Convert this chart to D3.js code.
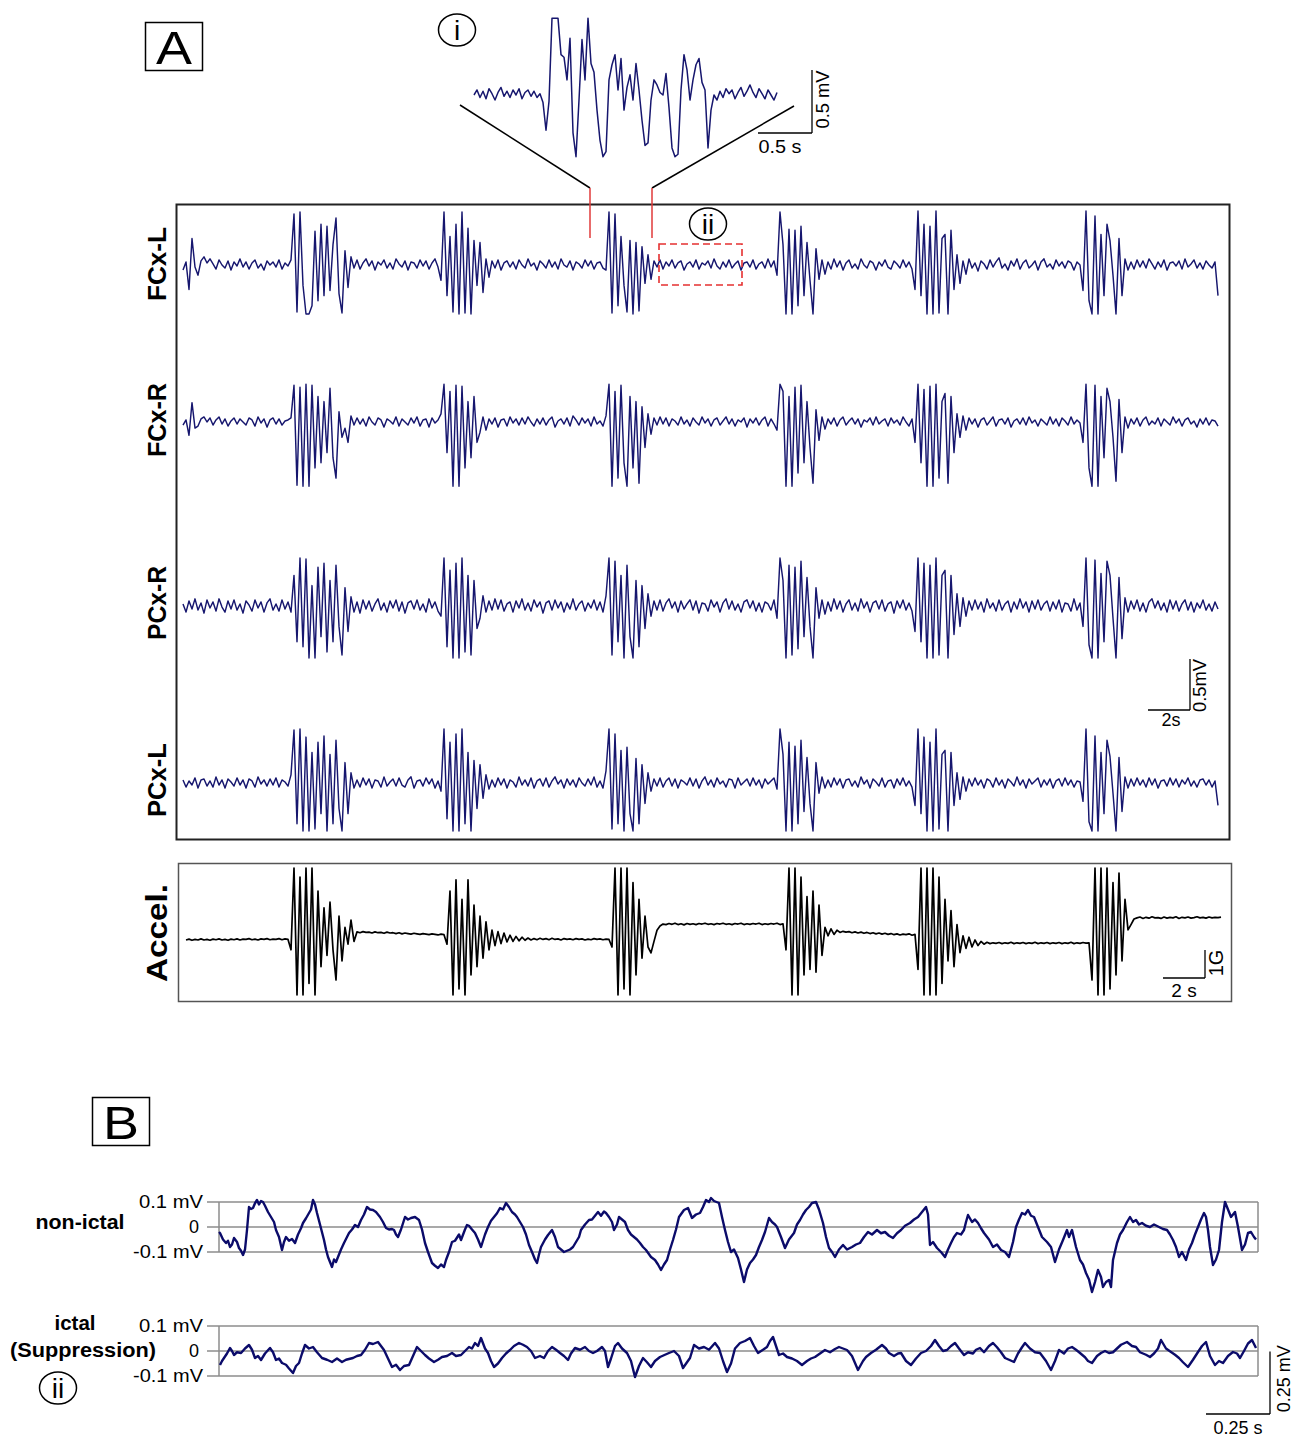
<!DOCTYPE html>
<html>
<head>
<meta charset="utf-8">
<script src="https://cdn.jsdelivr.net/npm/d3@7"></script>
<style>
  body { margin: 0; background: #fff; }
  svg { display: block; }
  text { font-family: "Liberation Sans", Arial, sans-serif; fill: #000; }
</style>
</head>
<body>
<svg id="fig" width="1293" height="1437"></svg>
<script>
// ---- data ----
// EEG channels, 7 samples/s, values in 0.01 mV
var eegRate = 7;
var fcxL = [
  -5,3,-24,26,-2,-10,4,8,2,6,   1,-4,5,0,-3,4,-5,3,-1,6,   -2,3,-4,2,5,-3,1,-5,4,0,
  3,-2,5,-4,2,-1,5,50,-46,52,   -20,-48,-48,-40,33,-35,40,-30,38,-25,   20,46,-28,-47,14,-22,8,-3,5,-4,
  2,6,-1,4,-5,3,0,5,-3,2,   -4,6,1,-2,4,-5,3,2,-3,5,   -1,4,-4,2,6,-2,-15,52,-30,28,
  -46,40,-48,52,-47,36,-48,24,-20,22,   -27,6,-12,4,-3,5,-5,2,4,-2,   3,-4,5,0,-3,6,-1,2,-5,4,
  1,-3,5,-2,3,-4,6,0,-2,4,   -5,3,1,-3,5,-1,4,-4,2,3,   -3,-5,52,-47,50,-40,28,-20,-46,24,
  -48,22,-45,18,-18,10,-14,4,-2,5,   -4,3,-1,5,-3,2,4,-5,1,3,   -2,5,-4,2,0,4,-3,6,-1,-4,
  3,-2,5,-3,1,4,-5,2,3,-2,   5,-4,1,3,-3,6,-2,4,-10,52,   20,-48,35,-48,34,-40,38,-30,22,-15,
  -48,16,-14,5,-9,3,-4,6,-2,4,   -5,2,5,-3,1,-4,6,0,-3,4,   2,-5,3,-1,5,-2,-4,4,1,-3,
  5,-2,3,-4,-24,53,-30,40,-48,38,   -48,53,-47,26,30,-48,34,-24,10,-18,   4,-9,6,-3,2,-6,4,1,-4,5,
  -2,3,7,-3,1,-5,4,-1,6,-4,   2,5,-3,0,4,-5,3,6,-2,1,   -4,5,-1,3,-3,4,2,-5,3,0,
  -25,53,-35,-48,48,-48,30,-30,40,24,   -10,-48,26,-30,6,-5,3,-4,5,-2,   4,-3,6,1,-4,3,-2,5,-5,2,
  3,-1,4,-4,6,-2,1,5,-3,2,   -4,4,0,-3,3,-30
];
var fcxR = [
  -3,2,-13,19,-6,-4,3,5,0,4,   -3,2,5,-2,3,-4,1,4,-2,3,   0,-3,4,2,-4,5,-1,3,-5,2,
  4,-2,3,-3,1,2,4,36,-62,34,   -63,37,-63,36,-45,25,-40,20,-30,33,   -35,-55,10,-15,-6,-20,6,-3,4,-2,
  3,-4,5,0,-3,4,2,-5,3,1,   -2,5,-4,3,0,-3,4,-1,5,-4,   2,3,-5,4,-1,2,8,37,-30,30,
  -63,36,-63,35,-45,20,-35,25,-20,-10,   5,-8,3,-2,4,-5,2,3,-4,5,   -1,3,-3,4,-2,5,0,-4,3,-2,
  4,-3,2,5,-5,1,3,-2,4,-4,   6,2,-3,4,-1,3,-4,5,-2,1,   -4,6,37,-63,30,-55,36,-40,-63,25,
  -45,20,-60,15,-25,8,-12,4,-3,5,   -2,4,-4,3,1,-3,5,-2,2,-4,   4,0,-3,5,-1,3,-4,2,4,-3,
  1,5,-2,3,-4,2,0,4,-5,3,   -1,4,-3,2,5,-4,3,-2,-8,37,   30,-63,25,-63,34,-50,36,-40,20,-25,
  -60,12,-18,5,-7,3,-2,4,-4,2,   5,-3,1,4,-2,3,-5,2,0,4,   -3,5,-2,1,3,-4,4,-1,2,-3,
  5,0,-4,3,-20,37,-40,32,-63,35,   -63,37,-55,20,28,-60,25,-30,8,-15,   6,-8,4,-2,3,-5,2,4,-3,1,
  5,-4,2,3,-2,4,-5,1,3,-2,   4,-3,5,-1,2,-4,3,0,-3,5,   -2,3,-4,4,1,-3,5,-2,2,-1,
  -20,37,-45,-63,36,-63,25,-35,33,20,   -15,-58,22,-30,5,-6,3,-2,4,-4,   2,5,-3,1,-2,4,-4,3,0,-3,
  5,-1,3,-4,2,4,-2,1,-5,3,   -2,4,-3,2,1,-4
];
var pcxR = [
  2,-6,5,-3,7,-4,3,-7,6,-2,   4,-5,7,-1,-6,5,-3,6,-4,2,   -7,5,1,-5,6,-2,4,-6,3,7,
  -4,2,-5,6,-3,4,-6,30,-35,47,   -40,46,-51,20,-51,38,-30,42,-45,25,   -35,40,-20,-48,18,-25,9,-6,4,-7,
  6,-3,5,-5,2,7,-4,3,-6,5,   -2,6,-5,4,-7,3,5,-3,6,-4,   2,-6,7,-2,4,-5,-10,47,-40,35,
  -51,42,-51,47,-45,30,-48,25,-22,-12,   10,-6,5,-4,7,-3,6,-5,2,4,   -6,5,-2,7,-4,3,-5,6,-1,4,
  -7,3,5,-4,6,-2,4,-6,3,-3,   7,-4,2,5,-5,3,-2,6,-4,4,   -6,10,47,-48,44,-35,30,-51,40,-30,
  -51,25,-40,20,-22,12,-10,5,-4,6,   -5,3,7,-2,4,-6,5,-3,2,6,   -4,5,-7,3,2,-5,6,-1,4,-6,
  3,7,-3,5,-4,2,-6,4,6,-2,   5,-5,3,-6,4,2,-4,6,-12,47,   25,-51,40,-48,38,-42,44,-30,28,-20,
  -51,18,-12,6,-8,4,-5,7,-3,5,   -6,2,6,-4,3,-5,7,-2,4,-6,   3,5,-3,6,-5,2,4,-7,5,-2,
  6,-4,3,-5,-25,47,-35,42,-51,40,   -51,47,-48,30,35,-51,30,-28,12,-20,   8,-10,5,-4,6,-3,4,-6,7,-2,
  3,-5,6,-4,2,5,-6,4,-3,7,   -2,4,-6,5,-3,6,-4,2,5,-5,   4,-3,6,-6,3,2,-5,7,-4,3,
  -20,47,-38,-51,45,-51,32,-35,44,30,   -12,-51,28,-32,8,-6,5,-3,6,-5,   3,-6,4,7,-2,5,-4,3,-6,6,
  -3,5,-5,2,6,-4,4,-6,3,-2,   6,-4,2,-5,4,-3
];
var pcxL = [
  3,-4,2,-2,5,-5,3,4,-3,2,   -4,6,-2,3,-5,4,1,-3,5,-2,   3,-5,4,2,-4,6,-1,3,-3,4,
  -2,5,-4,3,1,-3,8,52,-40,53,   -47,45,-47,30,-45,40,-30,46,-47,28,   -40,42,-25,-47,20,-30,10,-5,3,-4,
  5,-2,4,-5,3,2,-4,6,-3,1,   4,-3,5,-2,-4,3,6,-5,2,3,   -3,5,-1,4,-5,2,-8,53,-35,40,
  -47,48,-47,53,-40,30,-47,22,-25,18,   -15,8,-6,3,-4,5,-2,4,-5,3,   1,-4,6,-2,3,-3,5,-5,2,4,
  -3,5,-4,2,6,-1,3,-5,4,-2,   3,-4,5,0,-3,4,-2,6,-4,2,   -5,12,53,-45,48,-40,32,-47,35,-30,
  -47,24,-40,18,-20,10,-8,4,-3,5,   -4,2,5,-3,4,-5,3,1,-2,5,   -3,4,-5,2,6,-2,3,-4,5,-1,
  2,-4,4,3,-5,5,-2,1,4,-3,   5,-2,3,-5,4,-1,2,5,-6,53,   28,-47,40,-47,36,-40,42,-28,25,-20,
  -47,20,-10,6,-5,3,-4,5,-2,4,   -5,3,4,-3,2,-4,6,-1,3,-5,   4,1,-3,5,-4,2,3,-5,4,-2,
  5,-3,2,-4,-22,53,-30,45,-47,40,   -47,53,-45,28,32,-47,30,-22,10,-16,   6,-8,4,-3,5,-2,3,-5,4,2,
  -4,5,-2,3,-5,4,1,-3,6,-2,   3,-5,4,-1,2,5,-4,3,-2,4,   -5,2,4,-3,5,-2,3,-4,2,1,
  -18,53,-38,-47,46,-47,30,-30,42,26,   -10,-47,25,-28,6,-5,4,-3,5,-2,   3,-4,5,-2,4,-5,2,3,-3,5,
  -2,4,-4,3,-1,5,-3,2,-4,3,   4,-2,3,-4,2,-22
];
var channelNames = ["FCx-L", "FCx-R", "PCx-R", "PCx-L"];

// accelerometer, 7 samples/s, values in 0.01 G
var accel = [
  -25,-22,-26,-23,-25,-21,-25,-23,-26,-22,   -24,-21,-25,-23,-26,-22,-24,-21,-25,-22,
  -23,-20,-24,-22,-25,-21,-23,-20,-24,-22,   -23,-20,-24,-21,-23,-60,232,-221,200,-221,
  232,-180,232,-221,150,-120,90,-80,110,-60,   -168,60,-100,20,-40,46,-30,4,1,5,
  2,3,0,4,1,2,-1,3,0,1,   -2,1,-3,0,-2,-4,-1,-3,-5,-2,
  -4,-6,-3,-5,-7,-4,-6,-40,150,-221,   190,-200,120,-221,190,-150,100,-120,60,-90,
  40,-60,10,-45,5,-38,0,-32,-8,-30,   -12,-28,-15,-26,-18,-25,-20,-24,-19,-23,
  -20,-24,-19,-23,-21,-25,-20,-23,-21,-24,   -20,-23,-21,-25,-22,-24,-20,-23,-21,-24,
  -22,-23,-50,232,-221,232,-200,232,-221,180,   -150,120,-90,60,-50,-71,-30,10,25,32,
  30,34,31,35,30,33,29,34,31,33,   30,34,32,35,31,33,30,34,32,35,
  31,33,30,34,32,35,30,33,31,34,   32,35,30,33,31,34,32,35,30,33,
  -60,232,-221,232,-221,200,-150,130,-130,150,   -140,100,-80,20,-10,15,-5,10,2,6,
  3,5,1,4,0,3,-1,2,-2,1,   -3,0,-4,-1,-5,-2,-6,-3,-7,-4,
  -6,-3,-8,-5,-130,232,-221,232,-221,232,   -221,200,-180,120,-100,80,-120,30,-70,-10,
  -55,-15,-50,-25,-45,-30,-40,-33,-38,-35,   -37,-34,-38,-35,-37,-33,-38,-35,-37,-34,
  -38,-35,-37,-33,-38,-35,-37,-34,-38,-35,   -37,-34,-38,-35,-37,-33,-38,-35,-37,-34,
  -36,-35,-168,232,-221,232,-221,232,-200,180,   -150,214,-100,120,11,30,50,54,57,52,
  56,53,58,54,55,52,57,53,56,54,   58,52,56,54,57,53,55,58,54,56,
  53,57,54,56,55,57
];

// inset (i): expanded view of FCx-L burst, 36 samples/s, 0.01 mV
var insetRate = 36;
var insetTrace = [
  0,4,-2,3,-3,5,1,-4,2,6,   -1,3,-2,4,0,5,-3,2,4,-1,   3,-2,1,-6,-28,-5,61,61,61,32,
  30,12,45,-30,-49,-4,44,12,61,25,   18,-12,-36,-49,-45,12,24,32,4,29,   -12,6,16,-4,25,4,-20,-40,-38,-4,
  12,8,2,0,17,-10,-42,-49,-47,4,   32,20,-4,12,24,29,10,4,-42,-12,   0,-4,3,-2,5,1,4,-3,2,6,
  -1,3,8,2,-2,5,1,-3,4,0,   -4,2
];

// panel B: [sample @ 256 Hz, µV]
var bRate = 256;
var nonIctal = [
  [0,-20],[1,-24],[4,-50],[7,-64],[9,-55],[11,-80],[13,-70],[15,-44],[18,-60],[20,-84],[22,-95],[24,-112],[26,-90],[28,-12],
  [30,80],[32,72],[34,76],[36,95],[38,108],[40,90],[42,104],[44,100],[46,85],[49,60],[52,40],[55,20],[57,-12],[60,-40],
  [63,-92],[65,-60],[67,-40],[70,-55],[73,-48],[76,-64],[79,-30],[82,-5],[84,16],[87,35],[90,56],[92,70],[94,108],[96,90],
  [98,56],[101,10],[105,-52],[107,-90],[109,-120],[111,-140],[113,-160],[115,-130],[117,-140],[119,-120],[122,-90],[125,-64],
  [128,-40],[130,-24],[133,-10],[136,8],[139,0],[142,28],[145,50],[148,80],[151,70],[154,68],[157,60],[161,40],[164,20],
  [167,-4],[170,-10],[173,-8],[175,-12],[177,-30],[179,-40],[182,-10],[186,40],[189,30],[192,36],[196,40],[200,28],[203,-10],
  [206,-64],[209,-100],[213,-144],[216,-155],[219,-164],[222,-150],[225,-160],[227,-132],[230,-100],[233,-60],[236,-55],
  [240,-30],[242,-52],[246,-10],[248,8],[250,5],[253,-10],[256,-24],[259,-50],[262,-80],[266,-30],[269,0],[272,25],[275,40],
  [278,55],[281,76],[284,70],[287,96],[290,80],[293,60],[296,50],[298,40],[301,20],[304,0],[307,-30],[310,-72],[313,-100],
  [316,-130],[318,-144],[320,-110],[322,-80],[326,-50],[329,-32],[333,-12],[336,-40],[339,-80],[342,-90],[345,-100],[348,-95],
  [351,-90],[354,-80],[357,-60],[360,-40],[362,-12],[366,10],[370,28],[373,30],[376,45],[379,60],[382,45],[385,62],[387,56],
  [390,40],[393,20],[395,-12],[398,10],[400,40],[403,30],[406,20],[409,-12],[412,-30],[415,-40],[418,-50],[421,-64],[424,-80],
  [427,-92],[432,-120],[436,-132],[439,-150],[442,-172],[445,-150],[448,-132],[451,-90],[454,-52],[457,-10],[460,40],[465,68],
  [469,76],[473,36],[477,50],[481,56],[484,80],[487,108],[490,100],[492,116],[495,104],[500,96],[503,40],[506,-12],[509,-60],
  [512,-100],[515,-90],[519,-124],[522,-170],[525,-220],[528,-170],[531,-144],[534,-130],[537,-112],[540,-80],[543,-52],
  [546,-20],[550,36],[553,20],[556,10],[558,0],[562,-40],[566,-84],[570,-50],[575,-24],[578,10],[581,28],[584,50],[587,68],
  [590,80],[593,96],[597,100],[600,70],[604,16],[607,-40],[610,-84],[613,-100],[616,-120],[620,-90],[624,-72],[628,-90],
  [633,-80],[637,-70],[641,-64],[645,-40],[649,-20],[653,-30],[658,-12],[662,-25],[666,-20],[670,-35],[674,-44],[678,-25],
  [682,-12],[686,5],[691,16],[695,30],[699,40],[703,60],[707,80],[709,50],[711,-72],[714,-60],[718,-84],[722,-100],[726,-120],
  [729,-90],[732,-64],[735,-40],[738,-24],[742,-30],[745,-12],[747,20],[749,48],[753,20],[756,30],[759,16],[762,-5],[765,-24],
  [770,-50],[774,-80],[778,-70],[782,-92],[786,-100],[790,-120],[794,-60],[797,0],[800,30],[803,56],[806,50],[809,68],[812,45],
  [815,40],[819,0],[823,-40],[828,-60],[832,-80],[836,-140],[840,-90],[844,-52],[848,-12],[850,-40],[853,-12],[857,-80],
  [861,-132],[864,-150],[867,-184],[870,-210],[873,-260],[876,-220],[879,-172],[882,-200],[884,-240],[887,-220],[890,-212],
  [892,-240],[894,-132],[898,-64],[901,-30],[904,-12],[908,20],[911,40],[914,20],[917,28],[920,10],[923,16],[927,5],[931,0],
  [935,10],[940,0],[944,-8],[948,-12],[951,-30],[954,-52],[957,-80],[960,-120],[963,-100],[967,-132],[970,-90],[973,-64],
  [976,-30],[979,0],[982,30],[985,56],[987,40],[989,-12],[991,-80],[994,-152],[997,-130],[1000,-92],[1003,20],[1006,100],
  [1009,70],[1012,40],[1014,50],[1016,60],[1019,0],[1023,-92],[1026,-70],[1029,-24],[1032,-20],[1035,-40],[1037,-50]
];
var ictal = [
  [1,-56],[3,-40],[5,-28],[8,-10],[11,12],[13,0],[15,-16],[18,-5],[22,-8],[26,10],[30,24],[33,5],[36,-28],[39,-20],[42,-36],
  [46,-10],[51,12],[54,-5],[57,-36],[60,-30],[63,-48],[67,-55],[70,-70],[74,-88],[77,-60],[80,-48],[83,-10],[86,24],[90,10],
  [94,16],[98,-5],[103,-28],[108,-35],[113,-44],[118,-30],[123,-44],[127,-35],[134,-28],[138,-20],[142,-16],[146,5],[150,32],
  [154,28],[159,36],[162,20],[165,4],[169,-30],[173,-64],[177,-55],[181,-76],[185,-60],[190,-56],[194,-20],[198,16],[202,0],
  [206,-16],[210,-30],[215,-44],[219,-35],[223,-24],[228,-20],[233,-8],[237,-20],[242,-16],[246,0],[250,16],[253,10],[256,32],
  [259,20],[262,52],[266,10],[269,-8],[272,-40],[275,-64],[279,-50],[283,-28],[287,-10],[291,4],[295,20],[300,32],[304,25],
  [308,16],[312,0],[316,-28],[321,-20],[325,-28],[329,0],[333,16],[337,5],[341,-8],[345,-20],[349,-36],[352,-10],[356,12],
  [361,5],[366,16],[370,0],[374,-8],[378,0],[383,16],[386,0],[389,-64],[392,-30],[396,20],[399,32],[403,10],[408,-8],[412,-40],
  [416,-104],[420,-60],[424,-28],[428,-45],[432,-64],[436,-40],[441,-24],[446,-15],[450,-8],[455,0],[460,-20],[464,-68],
  [468,-45],[471,-28],[475,24],[480,10],[485,16],[490,5],[496,32],[500,10],[504,-40],[508,-84],[512,-50],[516,10],[521,32],
  [526,40],[531,52],[535,20],[539,-8],[544,5],[548,16],[551,40],[554,56],[557,20],[560,-16],[564,-10],[568,-24],[573,-30],
  [578,-40],[583,-56],[588,-40],[592,-30],[596,-24],[601,-10],[606,4],[611,-5],[616,8],[620,16],[624,10],[628,4],[633,-20],
  [639,-76],[644,-40],[647,-24],[652,-8],[657,5],[663,24],[667,10],[670,-8],[675,-20],[679,-10],[682,-8],[687,-40],[692,-56],
  [697,-30],[702,-8],[707,0],[712,20],[716,44],[720,20],[724,0],[728,4],[732,20],[736,32],[740,10],[745,-16],[749,-5],
  [754,-10],[757,5],[761,12],[765,-5],[770,20],[774,32],[778,15],[782,-5],[786,-28],[790,-35],[795,-44],[799,-10],[803,15],
  [806,32],[811,10],[816,-5],[821,-8],[827,-40],[832,-76],[836,-40],[840,4],[845,-10],[849,10],[853,16],[857,5],[861,-8],
  [866,-25],[869,-40],[873,-48],[878,-20],[882,-8],[886,0],[890,-8],[894,-5],[898,10],[902,25],[908,36],[913,20],[917,16],
  [921,-5],[927,-15],[931,-24],[935,-10],[939,10],[942,44],[947,10],[952,-4],[956,-15],[960,-28],[964,-45],[969,-64],
  [974,-35],[979,-4],[983,20],[987,36],[991,-20],[996,-56],[1000,-40],[1004,-48],[1009,-20],[1014,-4],[1018,-10],[1021,-28],
  [1025,0],[1029,30],[1033,44],[1037,12]
];
var bTickLabels = ["0.1 mV", "0", "-0.1 mV"];
var bTickValues = [100, 0, -100];

// ---- drawing ----
var navy = "#16166e";
var svg = d3.select("#fig");

function hline(x1, x2, y, col, w) {
  svg.append("line").attr("x1", x1).attr("x2", x2).attr("y1", y).attr("y2", y)
    .attr("stroke", col || "#000").attr("stroke-width", w || 1.3);
}
function vline(x, y1, y2, col, w) {
  svg.append("line").attr("x1", x).attr("x2", x).attr("y1", y1).attr("y2", y2)
    .attr("stroke", col || "#000").attr("stroke-width", w || 1.3);
}
function label(x, y, str, size, opts) {
  opts = opts || {};
  var t = svg.append("text").attr("x", x).attr("y", y).text(str)
    .attr("font-size", size).attr("text-anchor", opts.anchor || "middle")
    .attr("font-weight", opts.bold ? "bold" : "normal");
  if (opts.len) t.attr("textLength", opts.len).attr("lengthAdjust", "spacingAndGlyphs");
  return t;
}
function vlabel(x, y, str, size, opts) {
  opts = opts || {};
  var t = svg.append("text").attr("transform", "translate(" + x + "," + y + ") rotate(-90)").text(str)
    .attr("font-size", size).attr("text-anchor", "middle")
    .attr("font-weight", opts.bold ? "bold" : "normal");
  if (opts.len) t.attr("textLength", opts.len).attr("lengthAdjust", "spacingAndGlyphs");
  return t;
}
function circled(cx, cy, str) {
  svg.append("ellipse").attr("cx", cx).attr("cy", cy).attr("rx", 18.5).attr("ry", 16)
    .attr("fill", "none").attr("stroke", "#000").attr("stroke-width", 1.5);
  label(cx, cy + 10, str, 28);
}
function letterBox(x, y, str) {
  svg.append("rect").attr("x", x).attr("y", y).attr("width", 57).attr("height", 48)
    .attr("fill", "none").attr("stroke", "#000").attr("stroke-width", 1.5);
  label(x + 28.5, y + 41, str, 46, { len: 36 });
}

// Panel A
letterBox(145.5, 22.5, "A");

// main EEG box
svg.append("rect").attr("x", 176.5).attr("y", 204.5).attr("width", 1053).attr("height", 635)
  .attr("fill", "none").attr("stroke", "#222").attr("stroke-width", 2);

var xEeg = d3.scaleLinear().domain([0, 345 / eegRate]).range([183, 1218]);
var chanData = [fcxL, fcxR, pcxR, pcxL];
var chanY = [265, 422, 606, 783];
var chanLabelY = [264, 420, 603, 780];
var yEegUnit;
chanData.forEach(function (data, c) {
  var y = d3.scaleLinear().domain([-50, 50]).range([chanY[c] + 51, chanY[c] - 51]);
  yEegUnit = y;
  var line = d3.line().x(function (d, i) { return xEeg(i / eegRate); }).y(function (d) { return y(d); });
  svg.append("path").attr("d", line(data)).attr("fill", "none").attr("stroke", navy)
    .attr("stroke-width", 1.45).attr("stroke-linejoin", "round");
  vlabel(166, chanLabelY[c], channelNames[c], 26, { bold: true, len: 74 });
});

// EEG scale bar (2 s, 0.5 mV)
var eegBarX = 1190, eegBarY = 710;
var eeg2s = xEeg(2) - xEeg(0);
var eegHalfmV = yEegUnit(0) - yEegUnit(50);
vline(eegBarX, eegBarY - eegHalfmV, eegBarY);
hline(eegBarX - eeg2s, eegBarX, eegBarY);
label(eegBarX - eeg2s / 2 + 2, eegBarY + 16, "2s", 18);
vlabel(eegBarX + 16, eegBarY - eegHalfmV / 2 + 1, "0.5mV", 18, { len: 53 });

// inset (i)
var xIn = d3.scaleLinear().domain([0, (insetTrace.length - 1) / insetRate]).range([474, 777]);
var yIn = d3.scaleLinear().domain([-50, 50]).range([95 + 63, 95 - 63]);
svg.append("path").attr("d", d3.line().x(function (d, i) { return xIn(i / insetRate); }).y(function (d) { return yIn(d); })(insetTrace))
  .attr("fill", "none").attr("stroke", navy).attr("stroke-width", 1.5).attr("stroke-linejoin", "round");
circled(457, 30, "i");
var inBarX = 812, inBarY = 133;
var in05s = xIn(0.5) - xIn(0);
var in05mV = yIn(0) - yIn(50);
vline(inBarX, inBarY - in05mV, inBarY);
hline(inBarX - in05s, inBarX, inBarY);
label(inBarX - in05s / 2 - 5, inBarY + 20, "0.5 s", 18, { len: 43 });
vlabel(inBarX + 17, inBarY - in05mV / 2 - 2, "0.5 mV", 19, { len: 58 });

// zoom guide lines and red markers
var zoomT0 = 590, zoomT1 = 652;
svg.append("line").attr("x1", 460).attr("y1", 105).attr("x2", zoomT0).attr("y2", 188).attr("stroke", "#000").attr("stroke-width", 1.5);
svg.append("line").attr("x1", 794).attr("y1", 106).attr("x2", zoomT1).attr("y2", 188).attr("stroke", "#000").attr("stroke-width", 1.5);
vline(zoomT0, 188, 238, "#e03a3a", 1.5);
vline(zoomT1, 188, 238, "#e03a3a", 1.5);

// (ii) dashed box
circled(708, 224, "ii");
svg.append("rect").attr("x", 659).attr("y", 244).attr("width", 83).attr("height", 41)
  .attr("fill", "none").attr("stroke", "#e53030").attr("stroke-width", 1.6).attr("stroke-dasharray", "7,4");

// accelerometer
svg.append("rect").attr("x", 178.5).attr("y", 863.5).attr("width", 1053).attr("height", 138)
  .attr("fill", "none").attr("stroke", "#555").attr("stroke-width", 1.5);
var xAcc = d3.scaleLinear().domain([0, 345 / eegRate]).range([186, 1221]);
var yAcc = d3.scaleLinear().domain([-100, 100]).range([933 + 28, 933 - 28]);
svg.append("path").attr("d", d3.line().x(function (d, i) { return xAcc(i / eegRate); }).y(function (d) { return yAcc(d); })(accel))
  .attr("fill", "none").attr("stroke", "#000").attr("stroke-width", 1.7).attr("stroke-linejoin", "round");
vlabel(167, 933, "Accel.", 30, { bold: true, len: 98 });
var accBarX = 1205, accBarY = 978;
var acc2s = xAcc(2) - xAcc(0);
var acc1G = yAcc(0) - yAcc(100);
vline(accBarX, accBarY - acc1G, accBarY);
hline(accBarX - acc2s, accBarX, accBarY);
label(accBarX - acc2s / 2, accBarY + 19, "2 s", 19);
vlabel(accBarX + 18, accBarY - acc1G / 2 - 1, "1G", 20);

// Panel B
letterBox(92.5, 1097.5, "B");
var xB = d3.scaleLinear().domain([0, 1039 / bRate]).range([219, 1258]);
var bPanels = [
  { data: nonIctal, zero: 1227 },
  { data: ictal, zero: 1351 }
];
bPanels.forEach(function (p) {
  var y = d3.scaleLinear().domain([-100, 100]).range([p.zero + 25, p.zero - 25]);
  bTickValues.forEach(function (v, k) {
    hline(207, 1258, y(v), "#8c8c8c", 1.5);
    label(k === 1 ? 199 : 203, y(v) + 6, bTickLabels[k], 18,
      { anchor: "end", len: k === 0 ? 64 : (k === 2 ? 70 : null) });
  });
  vline(219, y(100), y(-100), "#8c8c8c", 1.5);
  vline(1258, y(100), y(-100), "#8c8c8c", 1.5);
  svg.append("path")
    .attr("d", d3.line().x(function (d) { return xB(d[0] / bRate); }).y(function (d) { return y(d[1]); })(p.data))
    .attr("fill", "none").attr("stroke", "#0b0b6a").attr("stroke-width", 2.4).attr("stroke-linejoin", "round");
  p.y = y;
});
label(80, 1229, "non-ictal", 20, { bold: true, len: 89 });
label(75, 1330, "ictal", 20, { bold: true, len: 41 });
label(83, 1357, "(Suppression)", 20, { bold: true, len: 146 });
circled(58, 1388, "ii");

// B scale bar (0.25 s, 0.25 mV)
var bBarX = 1270, bBarY = 1414;
var b025s = xB(0.25) - xB(0);
var b025mV = bPanels[1].y(0) - bPanels[1].y(250);
vline(bBarX, bBarY - b025mV, bBarY);
hline(bBarX - b025s, bBarX, bBarY);
label(bBarX - b025s / 2, bBarY + 20, "0.25 s", 18);
vlabel(bBarX + 20, bBarY - b025mV / 2 - 4, "0.25 mV", 18);
</script>
</body>
</html>
